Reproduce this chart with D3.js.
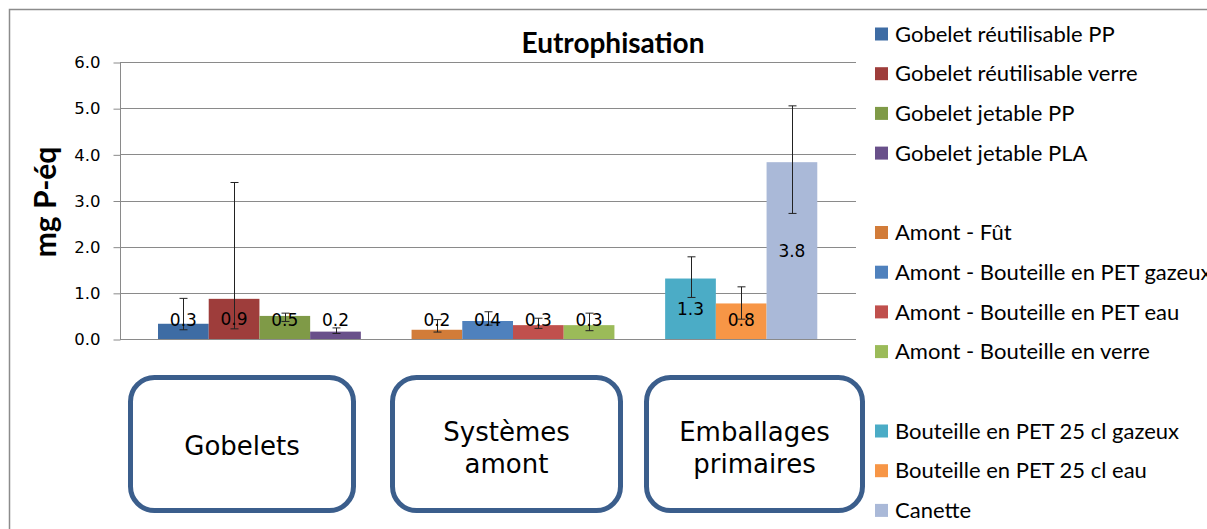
<!DOCTYPE html>
<html>
<head>
<meta charset="utf-8">
<script src="https://cdn.jsdelivr.net/npm/d3@7"></script>
<style>
  body { margin: 0; background: #fff; }
  svg { display: block; }
</style>
</head>
<body>
<svg width="1207" height="529"></svg>
<script>
// data
var groups = ["Gobelets", "Systèmes amont", "Emballages primaires"];
var groupLines = [["Gobelets"], ["Systèmes", "amont"], ["Emballages", "primaires"]];
var seriesNames = [
  "Gobelet réutilisable PP", "Gobelet réutilisable verre", "Gobelet jetable PP", "Gobelet jetable PLA",
  "Amont - Fût", "Amont - Bouteille en PET gazeux", "Amont - Bouteille en PET eau", "Amont - Bouteille en verre",
  "Bouteille en PET 25 cl gazeux", "Bouteille en PET 25 cl eau", "Canette"
];
var seriesGroup = [0, 0, 0, 0, 1, 1, 1, 1, 2, 2, 2];
var values  = [0.33, 0.87, 0.50, 0.16, 0.20, 0.39, 0.30, 0.30, 1.31, 0.77, 3.83];
var errLow  = [0.20, 0.22, 0.38, 0.12, 0.15, 0.30, 0.23, 0.18, 0.90, 0.43, 2.72];
var errHigh = [0.88, 3.39, 0.56, 0.24, 0.42, 0.59, 0.45, 0.56, 1.78, 1.13, 5.05];
var yTicks = [0, 1, 2, 3, 4, 5, 6];

var colors = ["#3e6ca4", "#9e3d3b", "#7f9a47", "#69508a",
              "#d27c39", "#4f81bd", "#c0504d", "#9bbb59",
              "#4bacc6", "#f79646", "#aab9d8"];

var svg = d3.select("svg");

// outer chart frame
svg.append("rect")
    .attr("x", 9.5).attr("y", 9.5)
    .attr("width", 1400).attr("height", 700)
    .attr("fill", "none")
    .attr("stroke", "#8c8c8c")
    .attr("stroke-width", 1.5);

var plot = {left: 120, right: 856, top: 62, bottom: 339};

var y = d3.scaleLinear().domain([0, 6]).range([plot.bottom, plot.top]);
var x0 = d3.scaleBand().domain(d3.range(groups.length))
    .range([158, 868]).paddingInner(0.2).paddingOuter(0);
var x1 = d3.scaleBand().domain(d3.range(4)).range([0, x0.bandwidth()]);
var z = d3.scaleOrdinal().domain(seriesNames).range(colors);

var rows = seriesNames.map(function(name, i) {
  var inGroup = seriesGroup.slice(0, i).filter(function(g) { return g === seriesGroup[i]; }).length;
  return {name: name, g: seriesGroup[i], k: inGroup, value: values[i], lo: errLow[i], hi: errHigh[i]};
});

// gridlines
svg.append("g")
  .selectAll("line")
  .data(yTicks)
  .enter().append("line")
    .attr("x1", plot.left).attr("x2", plot.right)
    .attr("y1", function(d) { return Math.round(y(d)) + 0.5; })
    .attr("y2", function(d) { return Math.round(y(d)) + 0.5; })
    .attr("stroke", "#8a8a8a");

// y axis
var yAxis = svg.append("g")
    .attr("transform", "translate(" + (plot.left + 0.5) + ",0.5)")
    .call(d3.axisLeft(y).tickValues(yTicks).tickFormat(d3.format(".1f")).tickSize(7).tickPadding(13));
yAxis.select(".domain").attr("stroke", "#8a8a8a").attr("d", "M0," + y(6) + "V" + y(0));
yAxis.selectAll(".tick line").attr("stroke", "#8a8a8a");
yAxis.selectAll("text")
    .attr("font-family", "DejaVu Sans, Verdana, sans-serif")
    .attr("font-size", 16.5)
    .attr("fill", "#000");

// bars
svg.append("g")
  .selectAll("rect")
  .data(rows)
  .enter().append("rect")
    .attr("x", function(d) { return x0(d.g) + x1(d.k); })
    .attr("y", function(d) { return y(d.value); })
    .attr("width", x1.bandwidth())
    .attr("height", function(d) { return y(0) - y(d.value); })
    .attr("fill", function(d) { return z(d.name); });

// error bars
var err = svg.append("g")
    .attr("stroke", "#222")
    .attr("stroke-width", 1)
  .selectAll("g")
  .data(rows)
  .enter().append("g")
    .attr("transform", function(d) { return "translate(" + (Math.round(x0(d.g) + x1(d.k) + x1.bandwidth() / 2) + 0.5) + ",0)"; });
err.append("line")
    .attr("y1", function(d) { return y(d.lo); })
    .attr("y2", function(d) { return y(d.hi); });
err.append("line")
    .attr("x1", -4).attr("x2", 4)
    .attr("y1", function(d) { return y(d.hi); })
    .attr("y2", function(d) { return y(d.hi); });
err.append("line")
    .attr("x1", -4).attr("x2", 4)
    .attr("y1", function(d) { return y(d.lo); })
    .attr("y2", function(d) { return y(d.lo); });

// data labels
svg.append("g")
    .attr("font-family", "DejaVu Sans, Verdana, sans-serif")
    .attr("font-size", 17)
    .attr("text-anchor", "middle")
  .selectAll("text")
  .data(rows)
  .enter().append("text")
    .attr("x", function(d) { return x0(d.g) + x1(d.k) + x1.bandwidth() / 2; })
    .attr("y", function(d) { return Math.min(y(d.value / 2), y(0) - 19); })
    .attr("dy", "0.36em")
    .text(function(d) { return d3.format(".1f")(d.value); });

// title
svg.append("text")
    .attr("x", 613).attr("y", 53)
    .attr("text-anchor", "middle")
    .attr("font-family", "Lato, sans-serif")
    .attr("font-weight", "bold")
    .attr("font-size", 28)
    .text("Eutrophisation");

svg.append("text")
    .attr("transform", "translate(56,202) rotate(-90)")
    .attr("text-anchor", "middle")
    .attr("font-family", "Lato, sans-serif")
    .attr("font-weight", "bold")
    .attr("font-size", 30)
    .text("mg P-éq");

// legend, one blank row between groups
var legend = svg.append("g")
    .attr("font-family", "Lato, sans-serif")
    .attr("font-size", 22)
  .selectAll("g")
  .data(rows)
  .enter().append("g")
    .attr("transform", function(d, i) { return "translate(875," + (34 + (i + d.g) * 39.7) + ")"; });
legend.append("rect")
    .attr("y", -6.5)
    .attr("width", 13).attr("height", 13)
    .attr("fill", function(d) { return z(d.name); });
legend.append("text")
    .attr("x", 20)
    .attr("dy", "0.35em")
    .text(function(d) { return d.name; });

// group boxes under the axis
var boxLayout = [{x: 130.5, w: 223}, {x: 392.5, w: 228}, {x: 646.5, w: 216}];
var box = svg.append("g")
  .selectAll("g")
  .data(groups)
  .enter().append("g")
    .attr("transform", function(d, i) { return "translate(" + boxLayout[i].x + ",377.5)"; });
box.append("rect")
    .attr("width", function(d, i) { return boxLayout[i].w; })
    .attr("height", 133)
    .attr("rx", 24)
    .attr("fill", "#fff")
    .attr("stroke", "#3b5e8c")
    .attr("stroke-width", 5);
box.append("text")
    .attr("text-anchor", "middle")
    .attr("font-family", "DejaVu Sans, Verdana, sans-serif")
    .attr("font-size", 26)
    .attr("transform", function(d, i) { return "translate(" + boxLayout[i].w / 2 + ",0)"; })
  .selectAll("tspan")
  .data(function(d, i) { return groupLines[i]; })
  .enter().append("tspan")
    .attr("x", 0)
    .attr("y", function(d, j, nodes) { return nodes.length === 1 ? 77 : 63 + j * 32; })
    .text(function(d) { return d; });
</script>
</body>
</html>
